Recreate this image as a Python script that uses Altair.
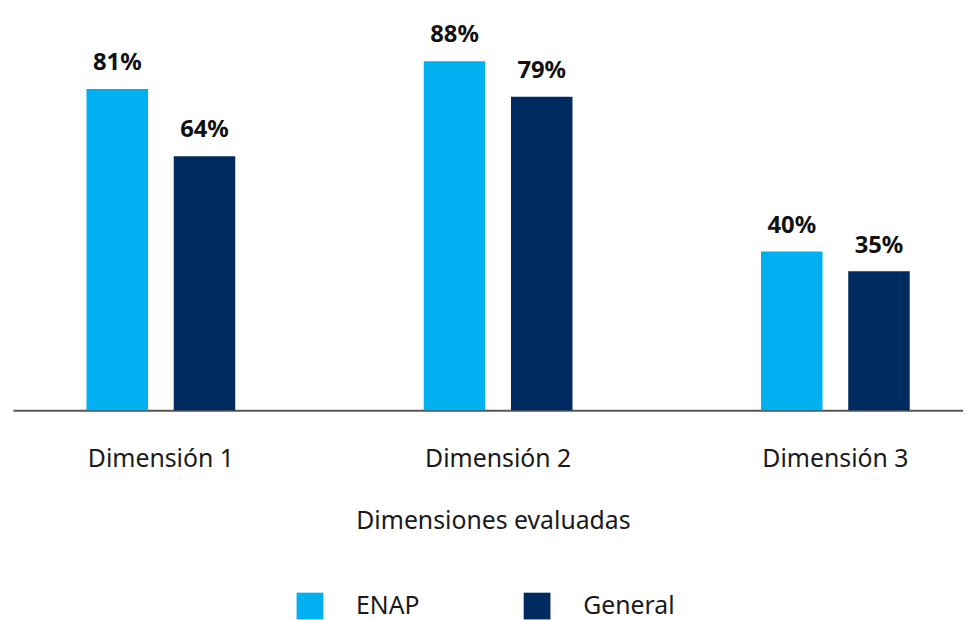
import altair as alt
import pandas as pd

categories = ["Dimensión 1", "Dimensión 2", "Dimensión 3"]
series = ["ENAP", "General"]
enap_values = [81, 88, 40]
general_values = [64, 79, 35]
colors = ["#00B0F0", "#002B60"]

rows = []
for c, e, g in zip(categories, enap_values, general_values):
    rows.append({"dim": c, "grupo": "ENAP", "valor": e, "label": f"{e}%"})
    rows.append({"dim": c, "grupo": "General", "valor": g, "label": f"{g}%"})
df = pd.DataFrame(rows)

FONT = "Noto Sans"

x = alt.X("dim:N", sort=categories,
          scale=alt.Scale(paddingInner=0.559, paddingOuter=0.188, align=0.58),
          axis=alt.Axis(title="Dimensiones evaluadas", labelAngle=0, ticks=False,
                        labelFontSize=25, labelColor="#1a1a1a", labelPadding=37,
                        titleFontSize=25, titleFontWeight="normal", titleColor="#1a1a1a",
                        titlePadding=37, titleX=484, domainColor="#555555", domainWidth=2,
                        labelFont=FONT, titleFont=FONT))
xo = alt.XOffset("grupo:N", sort=series, scale=alt.Scale(paddingInner=0.295))
y = alt.Y("valor:Q", scale=alt.Scale(domain=[0, 100]), axis=None)

bars = alt.Chart(df).mark_bar().encode(
    x=x, xOffset=xo, y=y,
    color=alt.Color("grupo:N", sort=series,
                    scale=alt.Scale(domain=series, range=colors),
                    legend=alt.Legend(title=None, orient="none", legendX=286, legendY=584,
                                      direction="horizontal", symbolType="square",
                                      symbolSize=729, symbolStrokeWidth=0,
                                      labelFontSize=25, labelFont=FONT, labelColor="#1a1a1a",
                                      labelOffset=33, columnPadding=104))
)

text = alt.Chart(df).mark_text(dy=-19, baseline="alphabetic", fontSize=24, fontWeight="bold",
                               font=FONT, color="#111111").encode(
    x=x, xOffset=xo, y=y, text="label:N"
)

chart = alt.layer(bars, text).properties(
    width=958, height=400,
    padding={"left": 5, "top": 3, "right": 0, "bottom": 0}
).configure_view(stroke=None)

chart.save("out.html", embed_options={"renderer": "svg", "actions": False})
